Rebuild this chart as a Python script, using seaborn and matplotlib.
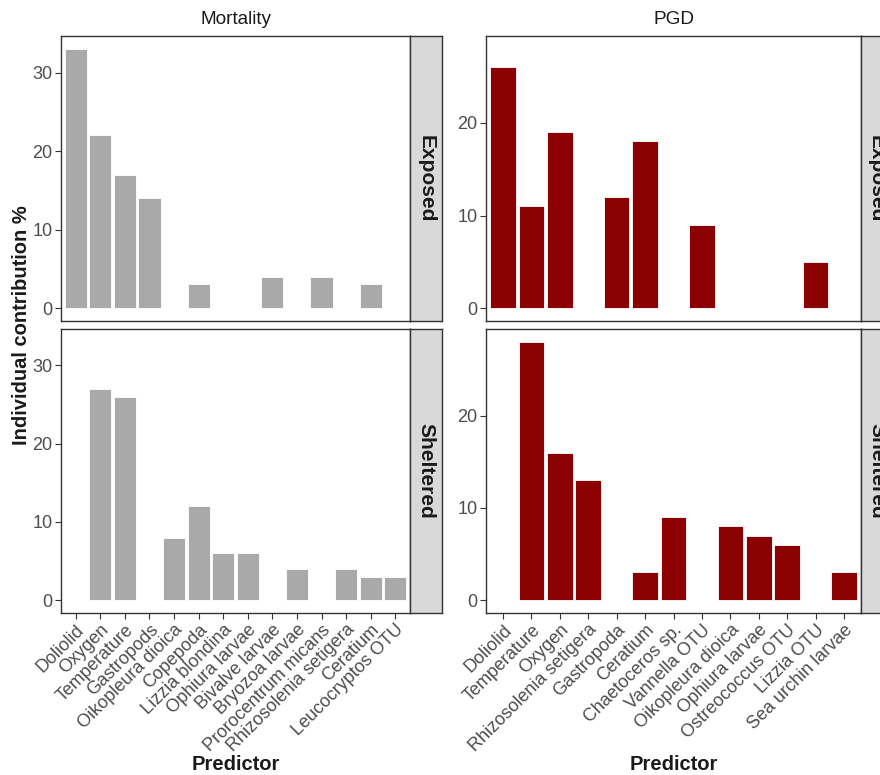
import pandas as pd
import matplotlib
matplotlib.use('Agg')
import matplotlib.pyplot as plt
import seaborn as sns

sns.set_theme(style='white')
plt.rcParams['font.family'] = ['Liberation Sans', 'DejaVu Sans']

# ---------------------------------------------------------------
# Data
# ---------------------------------------------------------------
mort_predictors = ['Doliolid', 'Oxygen', 'Temperature', 'Gastropods', 'Oikopleura dioica',
                   'Copepoda', 'Lizzia blondina', 'Ophiura larvae', 'Bivalve larvae',
                   'Bryozoa larvae', 'Prorocentrum micans', 'Rhizosolenia setigera',
                   'Ceratium', 'Leucocryptos OTU']
mort_exposed = [33, 22, 17, 14, 0, 3, 0, 0, 4, 0, 4, 0, 3, 0]
mort_sheltered = [0, 27, 26, 0, 8, 12, 6, 6, 0, 4, 0, 4, 3, 3]

pgd_predictors = ['Doliolid', 'Temperature', 'Oxygen', 'Rhizosolenia setigera', 'Gastropoda',
                  'Ceratium', 'Chaetoceros sp.', 'Vannella OTU', 'Oikopleura dioica',
                  'Ophiura larvae', 'Ostreococcus OTU', 'Lizzia OTU', 'Sea urchin larvae']
pgd_exposed = [26, 11, 19, 0, 12, 18, 0, 9, 0, 0, 0, 5, 0]
pgd_sheltered = [0, 28, 16, 13, 0, 3, 9, 0, 8, 7, 6, 0, 3]

sites = ['Exposed', 'Sheltered']

# ---------------------------------------------------------------
# Layout helpers (pixel boxes -> figure fractions)
# ---------------------------------------------------------------
W, H = 880, 775
fig = plt.figure(figsize=(W / 100, H / 100), dpi=100)


def px_rect(x0, y0, x1, y1):
    return [x0 / W, 1 - y1 / H, (x1 - x0) / W, (y1 - y0) / H]


BORDER = '#333333'
TICKTXT = '#4D4D4D'


def draw_panel(ax, predictors, values, color, ymax, yticks, show_x):
    df = pd.DataFrame({'Predictor': predictors, 'Contribution': values})
    df = df[df['Contribution'] > 0]
    sns.barplot(data=df, x='Predictor', y='Contribution', order=predictors,
                color=color, saturation=1, width=0.9, errorbar=None,
                edgecolor='white', linewidth=0.6, ax=ax)
    ax.set_xlim(-0.6, len(predictors) - 0.4)
    ax.set_ylim(-0.05 * ymax, 1.05 * ymax)
    ax.set_yticks(yticks)
    ax.set_xlabel('')
    ax.set_ylabel('')
    for s in ax.spines.values():
        s.set_color(BORDER)
        s.set_linewidth(1.0)
    ax.tick_params(axis='both', length=4, width=0.8, color=BORDER,
                   labelcolor=TICKTXT, labelsize=13, pad=2)
    ax.tick_params(axis='y', left=True)
    if show_x:
        ax.tick_params(axis='x', bottom=True)
        plt.setp(ax.get_xticklabels(), rotation=45, ha='right', va='top',
                 rotation_mode='anchor')
    else:
        ax.tick_params(axis='x', bottom=False, labelbottom=False)


def draw_strip(rect, label):
    ax_s = fig.add_axes(rect)
    ax_s.set_facecolor('#D9D9D9')
    ax_s.set_xticks([])
    ax_s.set_yticks([])
    for s in ax_s.spines.values():
        s.set_color(BORDER)
        s.set_linewidth(1.0)
    ax_s.text(0.5, 0.5, label, rotation=-90, ha='center', va='center',
              fontsize=15, fontweight='bold', color='#1A1A1A',
              transform=ax_s.transAxes)


rows_y = [(36, 321), (329, 613)]

columns = [
    dict(title='Mortality', x=(61, 410), strip=(410, 442), predictors=mort_predictors,
         series=[mort_exposed, mort_sheltered], color='#A9A9A9', yticks=[0, 10, 20, 30]),
    dict(title='PGD', x=(486, 861), strip=(861, 892), predictors=pgd_predictors,
         series=[pgd_exposed, pgd_sheltered], color='#8B0000', yticks=[0, 10, 20]),
]

for col in columns:
    ymax = max(max(v) for v in col['series'])
    x0, x1 = col['x']
    for i, (site, vals) in enumerate(zip(sites, col['series'])):
        y0, y1 = rows_y[i]
        ax = fig.add_axes(px_rect(x0, y0, x1, y1))
        draw_panel(ax, col['predictors'], vals, col['color'], ymax, col['yticks'],
                   show_x=(i == 1))
        draw_strip(px_rect(col['strip'][0], y0, col['strip'][1], y1), site)
    xc = (x0 + x1) / 2 / W
    fig.text(xc, 1 - 20 / H, col['title'], ha='center', va='center',
             fontsize=13.7, color='#1A1A1A')
    fig.text(xc, 1 - 764 / H, 'Predictor', ha='center', va='center',
             fontsize=14.5, fontweight='bold', color='#1A1A1A')

fig.text(22 / W, 1 - 325 / H, 'Individual contribution %', rotation=90,
         ha='center', va='center', fontsize=14.5, fontweight='bold', color='#1A1A1A')

fig.savefig('out.png', dpi=100)
